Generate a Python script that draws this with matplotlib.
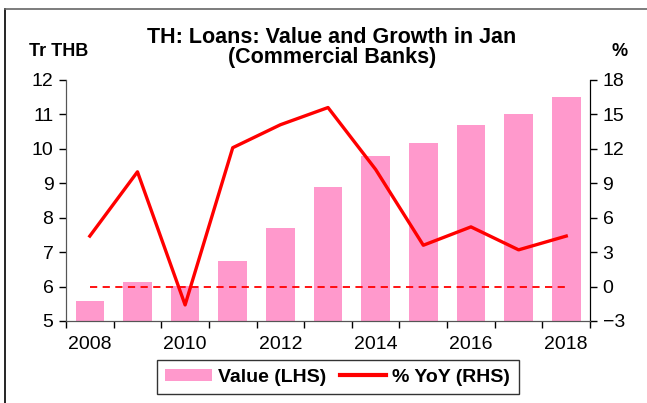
import numpy as np
import matplotlib
matplotlib.use('Agg')
import matplotlib.pyplot as plt
from matplotlib.patches import Patch
from matplotlib.lines import Line2D

# datos
years = [2008, 2009, 2010, 2011, 2012, 2013, 2014, 2015, 2016, 2017, 2018]
value_tr = [5.57, 6.12, 6.03, 6.75, 7.70, 8.90, 9.80, 10.17, 10.68, 11.02, 11.50]
yoy_pct = [4.4, 10.0, -1.6, 12.1, 14.1, 15.6, 10.2, 3.6, 5.2, 3.2, 4.4]
tick_years = ['2008', '2010', '2012', '2014', '2016', '2018']

plt.rcParams['font.family'] = ['Liberation Sans', 'DejaVu Sans']

fig = plt.figure(figsize=(6.47, 4.03), dpi=100)
ax = fig.add_axes([0.102, 0.2035, 0.81, 0.598])
ax2 = ax.twinx()

###############################
# barras (LHS)
x = np.arange(len(years))
ax.bar(x, value_tr, width=0.6, color='#ff99cc', bottom=0, zorder=1)
ax.set_ylim(5, 12)
ax.set_xlim(-0.5, len(years) - 0.5)
ax.set_yticks(range(5, 13))
ax.set_xticks(np.arange(-0.5, len(years), 1.0))
ax.set_xticklabels([])
ax.set_xticks(x[::2], minor=True)
ax.set_xticklabels(tick_years, minor=True)
ax.tick_params(axis='x', which='major', direction='out', length=5, width=1)
ax.tick_params(axis='x', which='minor', length=0, pad=11, labelsize=14)
ax.tick_params(axis='y', direction='out', length=5, width=1, labelsize=14, pad=4)

###############################
# linea (RHS)
ax2.plot(x, yoy_pct, color='#ff0000', lw=2.4, zorder=3)
ax2.plot([x[0], x[-1]], [0, 0], color='#ff0000', lw=1.3, ls=(0, (4, 3)), zorder=2)
ax2.set_ylim(-3, 18)
ax2.set_yticks(range(-3, 19, 3))
ax2.tick_params(axis='y', direction='out', length=5, width=1, labelsize=14, pad=4)

for a in (ax, ax2):
    a.spines['top'].set_visible(False)
    a.spines['left'].set_color('#555555')
    a.spines['right'].set_color('black')
    a.spines['bottom'].set_color('#555555')

###############################
# textos
fig.text(0.513, 0.908, 'TH: Loans: Value and Growth in Jan', ha='center',
         va='center', fontsize=15.5, fontweight='bold')
fig.text(0.513, 0.858, '(Commercial Banks)', ha='center',
         va='center', fontsize=15.5, fontweight='bold')
fig.text(0.045, 0.873, 'Tr THB', ha='left', va='center', fontsize=13, fontweight='bold')
fig.text(0.957, 0.873, '%', ha='center', va='center', fontsize=13, fontweight='bold')

handles = [Patch(facecolor='#ff99cc', edgecolor='none'),
           Line2D([], [], color='#ff0000', lw=3)]
leg = fig.legend(handles, ['Value (LHS)', '% YoY (RHS)'], loc='center',
                 bbox_to_anchor=(0.522, 0.064), ncol=2, frameon=True,
                 fancybox=False, edgecolor='black', handlelength=2.4,
                 handleheight=0.6, columnspacing=0.7, handletextpad=0.3,
                 prop={'size': 14, 'weight': 'bold'}, borderpad=0.45)
leg.get_frame().set_linewidth(1.0)

# marco de la figura
fig.add_artist(Line2D([0.008, 0.008], [0.0, 0.978], color='black', lw=1.2,
                      transform=fig.transFigure))
fig.add_artist(Line2D([0.008, 1.0], [0.978, 0.978], color='#666666', lw=1.2,
                      transform=fig.transFigure))

fig.savefig('out.png', dpi=100)
